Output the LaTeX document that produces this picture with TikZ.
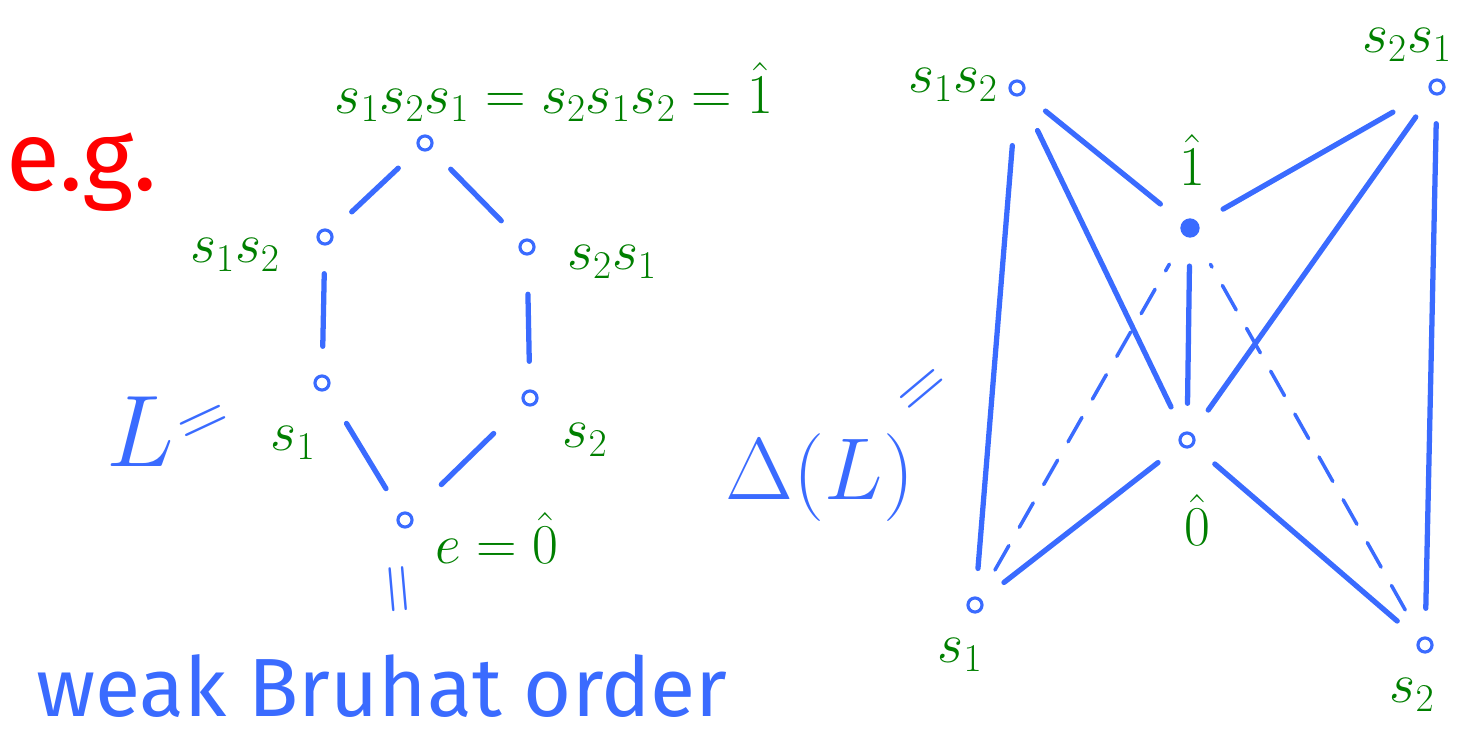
\RequirePackage{fix-cm}
\documentclass[tikz,border=0pt]{standalone}
\usepackage{amsmath}
\usepackage{fontspec}
\usepackage{xcolor}
\usepackage{tikz}
\usetikzlibrary{calc}
\setmainfont{Fira Sans}
\definecolor{penBlue}{HTML}{3A6BFF}
\definecolor{penGreen}{HTML}{007F00}
\definecolor{penRed}{HTML}{FF0000}
\tikzset{
  elt/.style={circle, draw=penBlue, line width=1.8pt, inner sep=0pt, minimum size=8pt},
  topelt/.style={circle, fill=penBlue, inner sep=0pt, minimum size=11pt},
  eltlabel/.style={text=penGreen, inner sep=1pt, font=\fontsize{32}{38}\selectfont},
  blueword/.style={text=penBlue, inner sep=0pt},
  cover/.style={penBlue, line width=3pt, line cap=round, shorten <=16pt, shorten >=16pt},
  chain/.style={penBlue, line width=2pt, line cap=round, dash pattern=on 16pt off 12pt,
    shorten <=18pt, shorten >=18pt}
}

\begin{document}
\begin{tikzpicture}[x=0.02cm, y=-0.02cm]
    \useasboundingbox (0,0) rectangle (1482,738);

    \node[text=penRed, font=\fontsize{56}{60}\selectfont] (eg) at (82,172) {e.g.};

    % the lattice L
    \node[elt] (top) at (425,143) {};
    \node[elt] (ab) at (325,237) {};
    \node[elt] (ba) at (527,247) {};
    \node[elt] (a) at (322,383) {};
    \node[elt] (b) at (530,398) {};
    \node[elt] (e) at (405,520) {};
    \node[eltlabel] (topL) at (554,92) {$s_1s_2s_1=s_2s_1s_2=\hat{1}$};
    \node[eltlabel] (abL) at (235,255) {$s_1s_2$};
    \node[eltlabel] (baL) at (612,262) {$s_2s_1$};
    \node[eltlabel] (aL) at (293,443) {$s_1$};
    \node[eltlabel] (bL) at (585,440) {$s_2$};
    \node[eltlabel] (eL) at (497,538) {$e=\hat{0}$};
    \draw[cover] (top) -- (ab);
    \draw[cover] (top) -- (ba);
    \draw[cover] (ab) -- (a);
    \draw[cover, shorten <=22pt] (ba) -- (b);
    \draw[cover, shorten <=22pt] (a) -- (e);
    \draw[cover, shorten <=24pt, shorten >=24pt] (b) -- (e);

    \node[blueword, font=\fontsize{58}{64}\selectfont] (Lname) at (140,432) {$L$};
    \node[blueword, rotate=25, font=\fontsize{40}{44}\selectfont] (Leq) at (205,425) {$=$};
    \node[blueword, rotate=-85, font=\fontsize{40}{44}\selectfont] (eeq) at (393,590) {$=$};
    \node[blueword, font=\fontsize{47}{52}\selectfont] (order) at (382,686) {weak Bruhat order};

    \node[blueword, font=\fontsize{50}{56}\selectfont] (Dname) at (820,478) {$\Delta(L)$};
    \node[blueword, rotate=40, font=\fontsize{40}{44}\selectfont] (Deq) at (925,393) {$=$};

    % the order complex
    \node[elt] (cab) at (1017,88) {};
    \node[elt] (cba) at (1437,87) {};
    \node[topelt] (ctop) at (1190,228) {};
    \node[elt] (cbot) at (1187,440) {};
    \node[elt] (ca) at (975,605) {};
    \node[elt] (cb) at (1425,645) {};
    \node[eltlabel] (cabL) at (953,85) {$s_1s_2$};
    \node[eltlabel] (cbaL) at (1407,45) {$s_2s_1$};
    \node[eltlabel] (ctopL) at (1192,160) {$\hat{1}$};
    \node[eltlabel] (cbotL) at (1197,520) {$\hat{0}$};
    \node[eltlabel] (caL) at (960,655) {$s_1$};
    \node[eltlabel] (cbL) at (1412,695) {$s_2$};
    \draw[cover, shorten <=28pt] (cab) -- (ca);
    \draw[cover] (cba) -- (cb);
    \draw[cover] (cab) -- (ctop);
    \draw[cover, shorten <=24pt] (cba) -- (ctop);
    \draw[cover, shorten <=22pt] (cab) -- (cbot);
    \draw[cover] (cba) -- (cbot);
    \draw[cover] (ctop) -- (cbot);
    \draw[cover] (ca) -- (cbot);
    \draw[cover] (cb) -- (cbot);
    \draw[chain] (ca) -- (ctop);
    \draw[chain] (cb) -- (ctop);
\end{tikzpicture}
\end{document}
